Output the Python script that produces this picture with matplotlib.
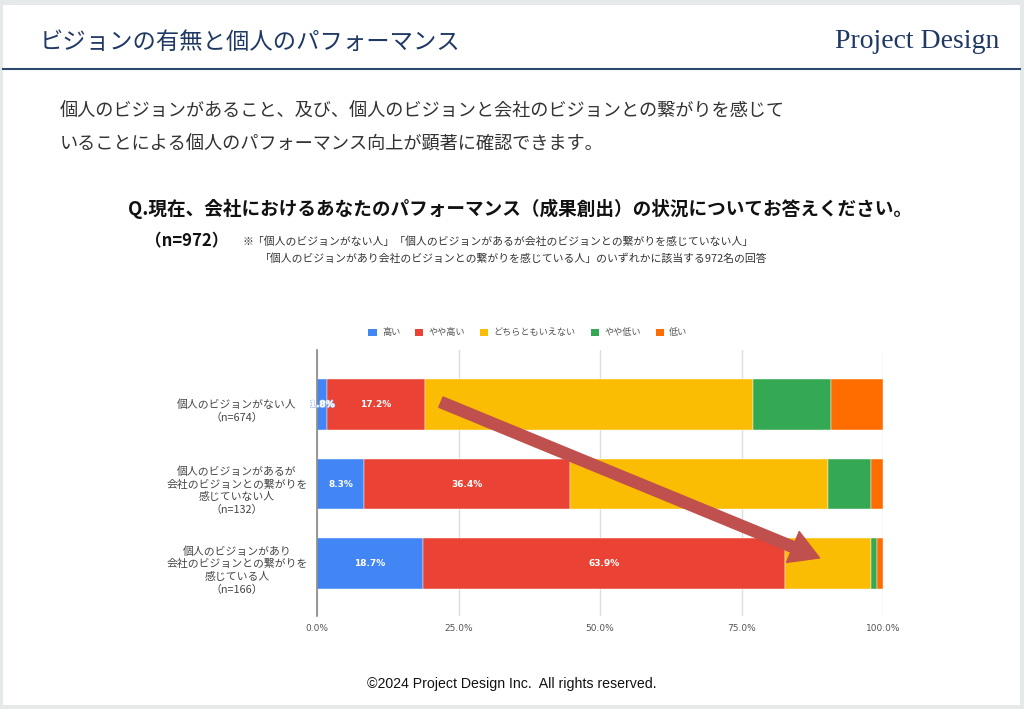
import matplotlib
matplotlib.use("Agg")
import matplotlib.pyplot as plt
from matplotlib.patches import Rectangle, Patch
from matplotlib.lines import Line2D
from matplotlib.transforms import blended_transform_factory
import matplotlib.patheffects as pe
import numpy as np

plt.rcParams['font.family'] = ['Noto Sans CJK JP', 'DejaVu Sans']

categories = [
    "個人のビジョンがない人\n（n=674）",
    "個人のビジョンがあるが\n会社のビジョンとの繋がりを\n感じていない人\n（n=132）",
    "個人のビジョンがあり\n会社のビジョンとの繋がりを\n感じている人\n（n=166）",
]
series_names = ["高い", "やや高い", "どちらともいえない", "やや低い", "低い"]
high = [1.8, 8.3, 18.7]
somewhat_high = [17.2, 36.4, 63.9]
neutral = [58.0, 45.6, 15.2]
somewhat_low = [13.8, 7.5, 1.1]
low = [9.2, 2.2, 1.1]
series_values = [high, somewhat_high, neutral, somewhat_low, low]
labeled_series = [0, 1]
xticks = [0, 25, 50, 75, 100]
xtick_labels = ["0.0%", "25.0%", "50.0%", "75.0%", "100.0%"]
colors = ["#4285f4", "#ea4335", "#fbbc04", "#34a853", "#ff6d01"]

W, H = 1024, 709
fig = plt.figure(figsize=(W / 100, H / 100), dpi=100)
fig.patch.set_facecolor("#e6e9ea")

def fx(px):
    return px / W

def fy(py):
    return 1 - py / H

# white slide
fig.patches.append(Rectangle((fx(3), fy(705)), fx(1020) - fx(3), fy(5) - fy(705),
                             transform=fig.transFigure, facecolor="white",
                             edgecolor="none", zorder=-10))
fig.lines.append(Line2D([fx(3), fx(1020)], [fy(69), fy(69)], transform=fig.transFigure,
                        color="#2f4a70", lw=1.5))

fig.text(fx(40), fy(42), "ビジョンの有無と個人のパフォーマンス", fontsize=16.8,
         color="#1f3864", va="center", ha="left")
fig.text(fx(999), fy(41), "Project Design", fontsize=20, family="Liberation Serif",
         color="#1f3864", va="center", ha="right")

fig.text(fx(60), fy(111), "個人のビジョンがあること、及び、個人のビジョンと会社のビジョンとの繋がりを感じて",
         fontsize=13.1, color="#333333", va="center", ha="left")
fig.text(fx(60), fy(143), "いることによる個人のパフォーマンス向上が顕著に確認できます。",
         fontsize=13.1, color="#333333", va="center", ha="left")

fig.text(fx(520), fy(209), "Q.現在、会社におけるあなたのパフォーマンス（成果創出）の状況についてお答えください。",
         fontsize=13.4, fontweight="bold", color="#111111", va="center", ha="center")
fig.text(fx(145), fy(241), "（n=972）", fontsize=12, fontweight="bold", color="#111111",
         va="center", ha="left")
fig.text(fx(243), fy(242), "※「個人のビジョンがない人」「個人のビジョンがあるが会社のビジョンとの繋がりを感じていない人」",
         fontsize=7.8, color="#333333", va="center", ha="left")
fig.text(fx(260), fy(258), "「個人のビジョンがあり会社のビジョンとの繋がりを感じている人」のいずれかに該当する972名の回答",
         fontsize=7.8, color="#333333", va="center", ha="left")

fig.text(fx(512), fy(684), "©2024 Project Design Inc.  All rights reserved.", fontsize=10.2,
         family="Liberation Sans", color="#111111", va="center", ha="center")

# chart
ax = fig.add_axes([fx(317), fy(616), fx(883) - fx(317), fy(350) - fy(616)])
ax.set_facecolor("white")
y = np.arange(len(categories))
left = np.zeros(len(categories))
bar_h = 0.64
for i, (name, vals) in enumerate(zip(series_names, series_values)):
    vals = np.array(vals)
    ax.barh(y, vals, left=left, height=bar_h, color=colors[i], label=name,
            edgecolor="white", linewidth=0.3, zorder=3)
    if i in labeled_series:
        for yy, l, v in zip(y, left, vals):
            t = ax.text(l + v / 2, yy, f"{v:.1f}%", color="white", fontsize=6.5,
                        fontweight="bold", ha="center", va="center", zorder=7,
                        family="DejaVu Sans")
            if v < 5:
                t.set_path_effects([pe.withStroke(linewidth=1.0, foreground="#9dbdf8"),
                                    pe.Normal()])
    left = left + vals

ax.set_xlim(0, 100)
ax.set_ylim(2.66, -0.686)
ax.set_xticks(xticks)
ax.set_xticklabels(xtick_labels, fontsize=6.5, color="#555555", family="DejaVu Sans")
ax.tick_params(axis="x", length=0, pad=6)
ax.set_yticks([])
for s in ["top", "right", "bottom"]:
    ax.spines[s].set_visible(False)
ax.spines["left"].set_color("#888888")
ax.spines["left"].set_linewidth(1.2)
ax.spines["left"].set_zorder(5)
ax.grid(axis="x", color="#dddddd", lw=1, zorder=0)
ax.set_axisbelow(True)

trans = blended_transform_factory(fig.transFigure, ax.transData)
for yy, lab in zip(y, categories):
    ax.text(fx(237), yy + 0.085, lab, transform=trans, ha="center", va="center",
            multialignment="center", fontsize=7.8, color="#444444", linespacing=1.3)

# arrow
ax.annotate("", xy=(88.8, 1.93), xytext=(21.9, -0.03),
            arrowprops=dict(arrowstyle="simple,head_length=1.3,head_width=1.5,tail_width=0.5",
                            color="#bf504d", mutation_scale=16, shrinkA=0, shrinkB=0),
            zorder=6)

# legend
handles = [Patch(facecolor=c, edgecolor="none") for c in colors]
fig.legend(handles, series_names, loc="center", bbox_to_anchor=(fx(528), fy(333)),
           ncol=5, frameon=False, fontsize=6.6, handlelength=0.9, handleheight=0.9,
           handletextpad=0.6, columnspacing=1.6, labelcolor="#555555")

fig.savefig("out.png", dpi=100, facecolor=fig.get_facecolor())
